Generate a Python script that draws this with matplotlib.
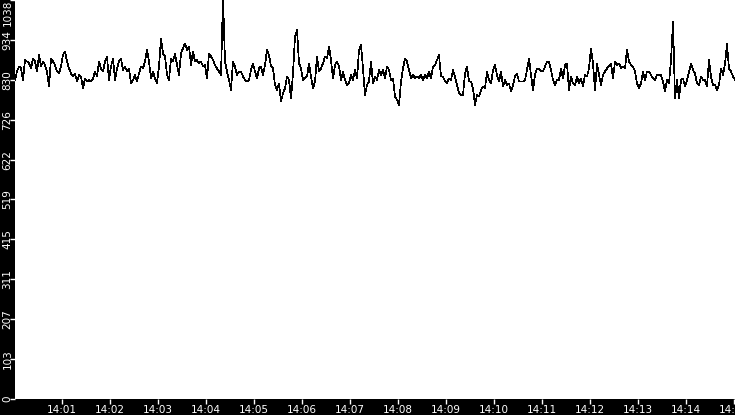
import datetime as dt
import matplotlib
matplotlib.use("Agg")
import matplotlib.pyplot as plt
import matplotlib.dates as mdates

# samples, one every 2.5 s starting 14:00:01.25
start = dt.datetime(2024, 1, 1, 14, 0, 1, 250000)
step_s = 2.5

values = [
    # 14:00 - 14:02:25
    830, 852, 865, 860, 830, 882, 878, 873, 860, 886, 878, 852, 895, 865, 878, 869,
    852, 813, 886, 878, 869, 852, 847, 865, 895, 904, 878, 860, 847, 839, 847, 826,
    843, 839, 808, 834, 826, 830, 826, 834, 852, 839, 878, 860, 852, 878, 891, 830,
    865, 886, 830, 860, 878, 886, 856, 865, 852, 860,
    # 14:02:25 - 14:04:55
    821, 830, 843, 826, 847, 865, 860, 878, 908, 878, 834, 852, 834, 821, 865, 938,
    899, 891, 843, 830, 886, 878, 899, 869, 843, 899, 912, 925, 908, 917, 869, 904,
    878, 882, 873, 878, 865, 869, 834, 899, 891, 882, 869, 860, 852, 843, 1045, 878,
    852, 830, 804, 878, 865, 843, 852, 852, 839, 830, 826, 830,
    # 14:04:55 - 14:07:25
    856, 873, 852, 834, 860, 865, 843, 869, 908, 895, 865, 860, 817, 804, 821, 774,
    795, 808, 839, 830, 782, 847, 943, 960, 873, 860, 830, 834, 839, 873, 839, 808,
    826, 891, 852, 860, 873, 891, 886, 917, 882, 834, 869, 878, 865, 830, 852, 830,
    817, 821, 843, 830, 856, 834, 908, 921, 860, 791, 817, 826,
    # 14:07:25 - 14:09:55
    878, 821, 839, 830, 856, 843, 856, 834, 865, 856, 830, 834, 787, 778, 765, 826,
    860, 886, 878, 856, 834, 843, 834, 839, 834, 843, 830, 843, 834, 852, 834, 865,
    869, 882, 895, 839, 839, 826, 821, 834, 830, 856, 839, 817, 795, 791, 791, 847,
    865, 826, 826, 808, 765, 791, 787, 804, 813, 808, 852, 830,
    # 14:09:55 - 14:12:25
    821, 856, 869, 843, 826, 852, 813, 830, 817, 821, 800, 817, 839, 847, 826, 826,
    826, 830, 856, 886, 843, 804, 843, 860, 860, 852, 852, 865, 878, 878, 856, 830,
    817, 830, 830, 860, 834, 869, 873, 804, 839, 821, 817, 839, 821, 834, 813, 843,
    839, 860, 912, 873, 804, 873, 843, 817, 843, 852, 860, 865,
    # 14:12:25 - 14:15
    873, 834, 878, 869, 873, 860, 865, 860, 908, 878, 869, 865, 852, 821, 808, 821,
    852, 830, 852, 852, 843, 834, 830, 843, 843, 843, 826, 800, 830, 821, 882, 982,
    782, 830, 782, 830, 834, 813, 830, 852, 873, 856, 847, 821, 817, 839, 830, 830,
    813, 882, 839, 817, 817, 804, 817, 860, 843, 873, 923, 860, 852, 839, 830,
]

times = [start + dt.timedelta(seconds=step_s * i) for i in range(len(values))]

y_ticks = [0, 103, 207, 311, 415, 519, 622, 726, 830, 934, 1038]

fig = plt.figure(figsize=(7.35, 4.15), dpi=100, facecolor="black")
ax = fig.add_axes([15 / 735, 16 / 415, 720 / 735, 399 / 415])
ax.set_facecolor("white")

ax.plot(times, values, color="black", linewidth=0.5, antialiased=False)

ax.set_ylim(0, 1038)
ax.set_xlim(start, start + dt.timedelta(seconds=900))
ax.set_yticks(y_ticks)
ax.set_yticklabels([str(v) for v in y_ticks], rotation=90, va="center")
# top label would be cut in half, keep it inside the figure
ax.get_yticklabels()[-1].set_va("top")

ax.xaxis.set_major_locator(mdates.MinuteLocator())
ax.xaxis.set_major_formatter(mdates.DateFormatter("%H:%M"))

ax.tick_params(colors="white", width=1)
ax.tick_params(axis="x", labelsize=7.5, length=3.5, pad=0.5)
ax.tick_params(axis="y", labelsize=7.5, length=3.6, pad=-1.8)
for s in ax.spines.values():
    s.set_visible(False)

fig.savefig("out.png", dpi=100, facecolor="black")
